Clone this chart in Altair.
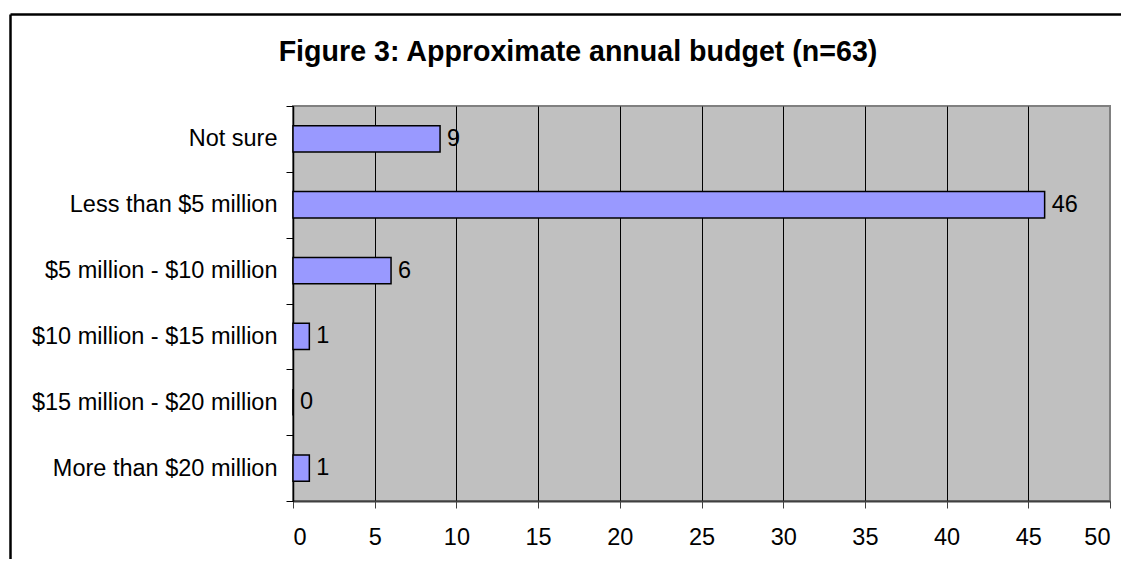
import altair as alt
import pandas as pd

categories = [
    "Not sure",
    "Less than $5 million",
    "$5 million - $10 million",
    "$10 million - $15 million",
    "$15 million - $20 million",
    "More than $20 million",
]
counts = [9, 46, 6, 1, 0, 1]
x_ticks = [0, 5, 10, 15, 20, 25, 30, 35, 40, 45, 50]
title_text = "Figure 3: Approximate annual budget (n=63)"

FONT = "Liberation Sans"
W, H = 817, 395
PAD_L, PAD_T, PAD_R, PAD_B = 285, 98, 11, 58

df = pd.DataFrame({"category": categories, "count": counts})

y_enc = alt.Y(
    "category:N",
    sort=categories,
    scale=alt.Scale(paddingInner=0, paddingOuter=0),
    axis=alt.Axis(
        title=None,
        labelFont=FONT,
        labelFontSize=23.5,
        labelColor="black",
        labelPadding=9,
        tickSize=7,
        tickColor="black",
        tickBand="extent",
        domainColor="black",
        domainWidth=1.5,
        grid=False,
        labelLimit=400,
    ),
)
x_enc = alt.X(
    "count:Q",
    scale=alt.Scale(domain=[0, 50], nice=False),
    axis=alt.Axis(
        title=None,
        values=x_ticks,
        labelFont=FONT,
        labelFontSize=23.5,
        labelColor="black",
        labelPadding=17,
        tickSize=7,
        tickColor="#404040",
        domainColor="#404040",
        domainWidth=2,
        grid=True,
        gridColor={"condition": {"test": "datum.value == 50", "value": "#808080"}, "value": "black"},
        gridWidth=1,
        gridOpacity=1,
    ),
)

bars = alt.Chart(df).mark_bar(
    color="#9999FF", stroke="black", strokeWidth=1.5, height={"band": 0.4}
).encode(x=x_enc, y=y_enc)

labels = alt.Chart(df).mark_text(
    align="left", baseline="middle", dx=7, font=FONT, fontSize=23.5, color="black"
).encode(x="count:Q", y=alt.Y("category:N", sort=categories), text="count:Q")

one = pd.DataFrame({"a": [0]})
frame_top = alt.Chart(one).mark_rule(color="black", strokeWidth=2.5).encode(
    x=alt.value(-282.5), x2=alt.value(W + PAD_R + 5), y=alt.value(-91.5)
)
frame_left = alt.Chart(one).mark_rule(color="black", strokeWidth=2.5).encode(
    x=alt.value(-282.5), y=alt.value(-91.5), y2=alt.value(H + PAD_B + 5)
)
title = alt.Chart(one).mark_text(
    text=title_text, font=FONT, fontSize=28.6, fontWeight="bold",
    align="center", baseline="alphabetic", color="black"
).encode(x=alt.value(578 - 293), y=alt.value(61 - 106))

chart = alt.layer(bars, labels, frame_top, frame_left, title).properties(
    width=W,
    height=H,
    autosize=alt.AutoSizeParams(type="none"),
    padding={"left": PAD_L, "top": PAD_T, "right": PAD_R, "bottom": PAD_B},
    background="white",
).configure_view(
    fill="#C0C0C0", stroke="#808080", strokeWidth=2
)

chart.save("out.html", embed_options={"renderer": "svg", "actions": False})
